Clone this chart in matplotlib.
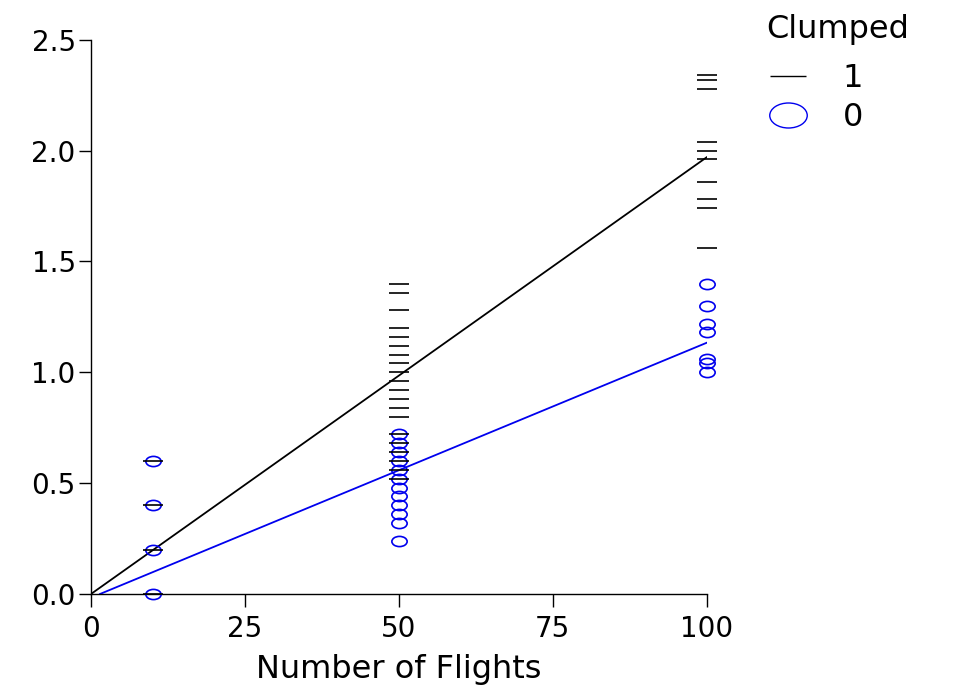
import numpy as np
import matplotlib.pyplot as plt
from matplotlib.path import Path
from matplotlib.transforms import Affine2D
from matplotlib.lines import Line2D

plt.rcParams['font.family'] = ['DejaVu Sans']

# Clumped = 1 (black dashes)
flights_1 = [10, 10, 10, 10] + [50] * 20 + [100] * 10
vals_1 = [0.0, 0.2, 0.4, 0.6,
          1.40, 1.36, 1.28, 1.20, 1.16, 1.12, 1.08, 1.04, 1.00, 0.96,
          0.92, 0.88, 0.84, 0.80, 0.72, 0.68, 0.64, 0.60, 0.56, 0.52,
          2.34, 2.32, 2.28, 2.04, 2.00, 1.96, 1.86, 1.78, 1.74, 1.56]

# Clumped = 0 (blue ellipses)
flights_0 = [10, 10, 10, 10] + [50] * 12 + [100] * 7
vals_0 = [0.0, 0.2, 0.4, 0.6,
          0.72, 0.68, 0.64, 0.60, 0.56, 0.52, 0.48, 0.44, 0.40, 0.36, 0.32, 0.24,
          1.40, 1.30, 1.22, 1.18, 1.06, 1.04, 1.00]

# fitted lines (slope, intercept)
fit_1 = (0.0197, 0.0)
fit_0 = (0.01150, -0.0168)

xticks = [0, 25, 50, 75, 100]
yticks = [0.0, 0.5, 1.0, 1.5, 2.0, 2.5]

ellipse = Path(Affine2D().scale(1.5, 1.0).transform(Path.unit_circle().vertices),
               Path.unit_circle().codes)

fig = plt.figure(figsize=(9.68, 6.98), dpi=100)
ax = fig.add_axes([0.094, 0.149, 0.636, 0.794])

ax.plot(flights_0, vals_0, linestyle='none', marker=ellipse, markersize=11,
        markerfacecolor='none', markeredgecolor='#0000ee', markeredgewidth=1.2,
        clip_on=False, zorder=3)
ax.plot(flights_1, vals_1, linestyle='none', marker='_', markersize=15,
        color='black', markeredgewidth=1.2, clip_on=False, zorder=4)

for (m, b), col in [(fit_1, 'black'), (fit_0, '#0000ee')]:
    x0 = max(0.0, -b / m)
    xs = np.array([x0, 100])
    ax.plot(xs, m * xs + b, color=col, lw=1.3, zorder=2)

ax.set_xlim(0, 100)
ax.set_ylim(0, 2.5)
ax.set_xticks(xticks)
ax.set_yticks(yticks)
ax.set_yticklabels([f'{v:.1f}' for v in yticks])
ax.tick_params(labelsize=20, length=9, width=1, direction='out', pad=2)
ax.tick_params(axis='x', pad=6)
for s in ['top', 'right']:
    ax.spines[s].set_visible(False)
for s in ['left', 'bottom']:
    ax.spines[s].set_linewidth(1)
ax.set_xlabel('Number of Flights', fontsize=23, labelpad=8)

handles = [
    Line2D([], [], linestyle='none', marker='_', markersize=26, color='black',
           markeredgewidth=1),
    Line2D([], [], linestyle='none', marker=ellipse, markersize=27,
           markerfacecolor='none', markeredgecolor='#0000ee', markeredgewidth=1),
]
leg = fig.legend(handles, ['1', '0'], title='Clumped', loc='upper left',
                 bbox_to_anchor=(0.768, 1.012), frameon=False, fontsize=23,
                 title_fontsize=23, handletextpad=1.0, labelspacing=0.25,
                 borderpad=0.2, handlelength=1.4)
leg._legend_box.align = 'left'
leg._legend_box.sep = 13

fig.savefig('out.png', dpi=100)
